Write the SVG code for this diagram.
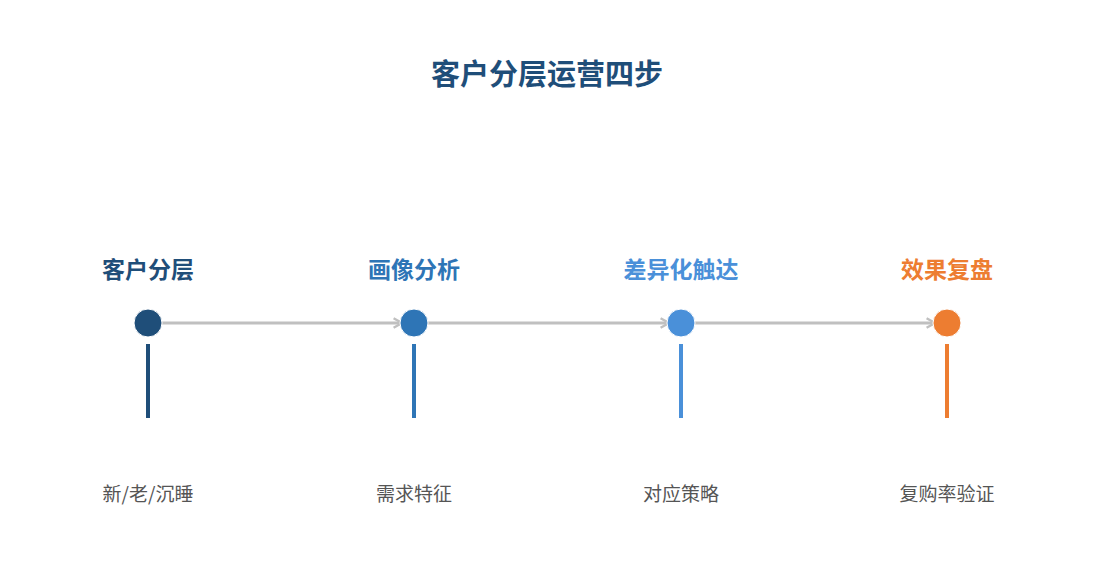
<svg xmlns="http://www.w3.org/2000/svg" width="1095" height="585" viewBox="0 0 1095 585">
<style>
text{font-family:"Noto Sans CJK SC","Liberation Sans",sans-serif;text-anchor:middle}
.title{font-size:29px;font-weight:700;fill:#1f4e79}
.head{font-size:23px;font-weight:700}
.sub{font-size:19px;fill:#555555}
.conn{stroke:#c0c0c0;stroke-width:3;fill:none}
.stem{stroke-width:4}
</style>
<defs>
<marker id="arr" viewBox="0 0 10 10" refX="8" refY="5" markerWidth="4" markerHeight="4" orient="auto" markerUnits="strokeWidth">
<path d="M1,1 L8,5 L1,9" fill="none" stroke="#c0c0c0" stroke-width="2"/>
</marker>
</defs>
<rect width="1095" height="585" fill="#ffffff"/>
<text class="title" x="547" y="85">客户分层运营四步</text>
<g id="connectors">
<line class="conn" x1="162" y1="323" x2="402" y2="323" marker-end="url(#arr)"/>
<line class="conn" x1="428" y1="323" x2="669" y2="323" marker-end="url(#arr)"/>
<line class="conn" x1="695" y1="323" x2="935" y2="323" marker-end="url(#arr)"/>
</g>
<g id="step1">
<text class="head" x="148" y="278" fill="#1f4e79">客户分层</text>
<circle cx="148" cy="323" r="14" fill="#1f4e79" stroke="#ffffff" stroke-width="1"/>
<line class="stem" x1="148" y1="344" x2="148" y2="418" stroke="#1f4e79"/>
<text class="sub" x="148" y="501">新/老/沉睡</text>
</g>
<g id="step2">
<text class="head" x="414" y="278" fill="#2e75b6">画像分析</text>
<circle cx="414" cy="323" r="14" fill="#2e75b6" stroke="#ffffff" stroke-width="1"/>
<line class="stem" x1="414" y1="344" x2="414" y2="418" stroke="#2e75b6"/>
<text class="sub" x="414" y="501">需求特征</text>
</g>
<g id="step3">
<text class="head" x="681" y="278" fill="#4a90d9">差异化触达</text>
<circle cx="681" cy="323" r="14" fill="#4a90d9" stroke="#ffffff" stroke-width="1"/>
<line class="stem" x1="681" y1="344" x2="681" y2="418" stroke="#4a90d9"/>
<text class="sub" x="681" y="501">对应策略</text>
</g>
<g id="step4">
<text class="head" x="947" y="278" fill="#ed7d31">效果复盘</text>
<circle cx="947" cy="323" r="14" fill="#ed7d31" stroke="#ffffff" stroke-width="1"/>
<line class="stem" x1="947" y1="344" x2="947" y2="418" stroke="#ed7d31"/>
<text class="sub" x="947" y="501">复购率验证</text>
</g>
</svg>
